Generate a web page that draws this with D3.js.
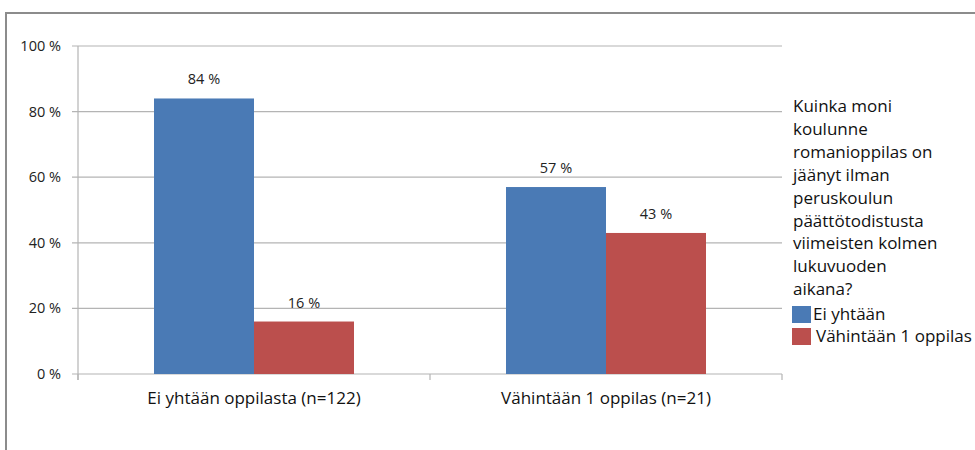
<!DOCTYPE html>
<html><head><meta charset="utf-8">
<script src="https://cdn.jsdelivr.net/npm/d3@7"></script>
<style>body{margin:0;background:#fff}svg{display:block}</style>
</head><body><svg id="c" width="975" height="450"></svg>
<script>
const categories = ["Ei yhtään oppilasta (n=122)", "Vähintään 1 oppilas (n=21)"];
const seriesNames = ["Ei yhtään", "Vähintään 1 oppilas"];
const seriesValues = [[84, 57], [16, 43]];
const yTicks = [0, 20, 40, 60, 80, 100];
const colors = ["#4a7ab5", "#bb4f4d"];
const legendTitle = ["Kuinka moni", "koulunne", "romanioppilas on", "jäänyt ilman", "peruskoulun", "päättötodistusta", "viimeisten kolmen", "lukuvuoden", "aikana?"];

(function () {
const font = "'Open Sans', sans-serif";
const svg = d3.select("#c");
// outer frame
svg.append("rect").attr("x", 6).attr("y", 13).attr("width", 1000).attr("height", 500)
  .attr("fill", "none").attr("stroke", "#8c8c8c").attr("stroke-width", 2);

const pL = 78, pR = 782, pT = 46, pB = 374;
const x = d3.scaleBand().domain(categories).range([pL, pR]);
const y = d3.scaleLinear().domain([0, 100]).range([pB, pT]);
const xs = d3.scaleBand().domain(d3.range(seriesNames.length)).range([0, 200]);

// gridlines
svg.append("g").selectAll("line").data(yTicks).join("line")
  .attr("x1", pL - 6).attr("x2", pR).attr("y1", d => y(d)).attr("y2", d => y(d))
  .attr("stroke", "#b4b4b4").attr("stroke-width", 1.2);
// y axis line
svg.append("line").attr("x1", pL).attr("x2", pL).attr("y1", pT).attr("y2", pB + 6)
  .attr("stroke", "#b4b4b4").attr("stroke-width", 1.2);
// category ticks
const edges = categories.map(c => x(c)).concat([pR]);
svg.append("g").selectAll("line").data(edges).join("line")
  .attr("x1", d => d).attr("x2", d => d).attr("y1", pB).attr("y2", pB + 6)
  .attr("stroke", "#b4b4b4").attr("stroke-width", 1.2);

// y tick labels
svg.append("g").selectAll("text").data(yTicks).join("text")
  .attr("x", 61).attr("y", d => y(d)).attr("dy", "0.35em").attr("text-anchor", "end")
  .attr("font-family", font).attr("font-size", 14.5).attr("fill", "#222")
  .text(d => d + " %");

// bars
const groups = svg.append("g").selectAll("g").data(categories).join("g")
  .attr("transform", c => `translate(${x(c) + x.bandwidth() / 2 - 100},0)`);
seriesNames.forEach((s, si) => {
  groups.append("rect")
    .attr("x", xs(si)).attr("width", xs.bandwidth())
    .attr("y", (c, ci) => y(seriesValues[si][ci]))
    .attr("height", (c, ci) => pB - y(seriesValues[si][ci]))
    .attr("fill", colors[si]);
  groups.append("text")
    .attr("x", xs(si) + xs.bandwidth() / 2)
    .attr("y", (c, ci) => y(seriesValues[si][ci]) - 14)
    .attr("text-anchor", "middle").attr("font-family", font).attr("font-size", 14.5).attr("fill", "#222")
    .text((c, ci) => seriesValues[si][ci] + " %");
});

// category labels
svg.append("g").selectAll("text").data(categories).join("text")
  .attr("x", c => x(c) + x.bandwidth() / 2).attr("y", 404).attr("text-anchor", "middle")
  .attr("font-family", font).attr("font-size", 17).attr("fill", "#111")
  .text(c => c);

// legend
const lg = svg.append("g");
lg.selectAll("text.t").data(legendTitle).join("text").attr("class", "t")
  .attr("x", 793).attr("y", (d, i) => 112 + i * 22.9)
  .attr("font-family", font).attr("font-size", 17).attr("fill", "#111").text(d => d);
seriesNames.forEach((s, i) => {
  lg.append("rect").attr("x", 792).attr("y", 306 + i * 22).attr("width", 19).attr("height", 17).attr("fill", colors[i]);
  lg.append("text").attr("x", i === 0 ? 813 : 816).attr("y", 320 + i * 22)
    .attr("font-family", font).attr("font-size", 17).attr("fill", "#111").text(s);
});
})();
</script></body></html>
